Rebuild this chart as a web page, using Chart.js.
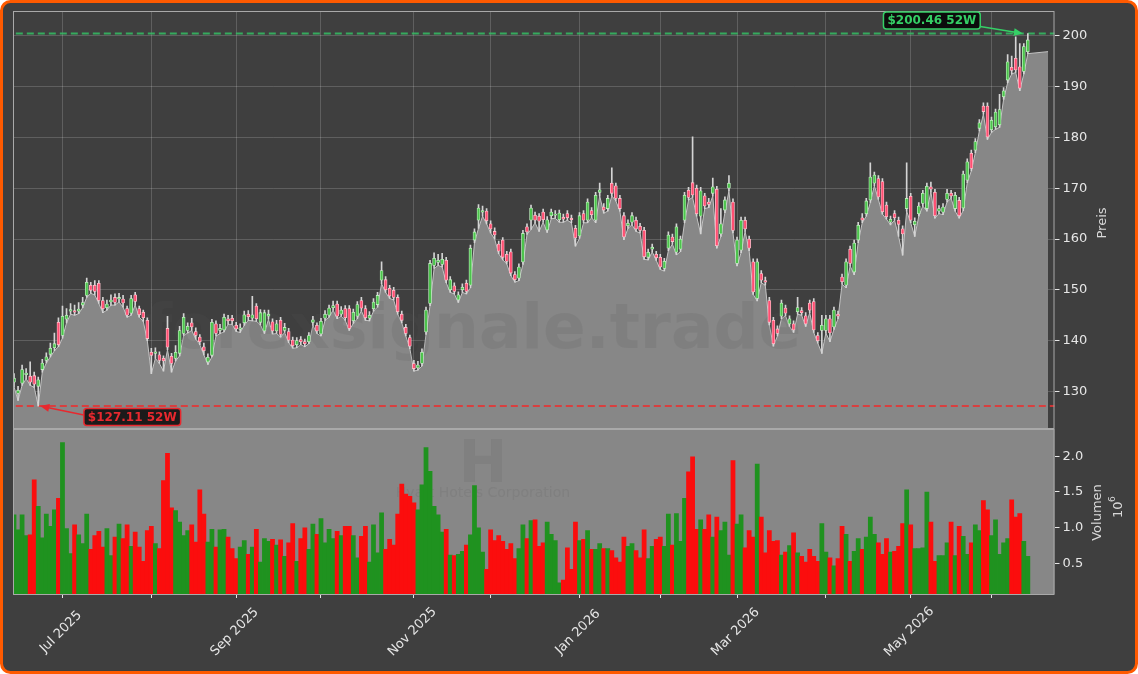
<!DOCTYPE html>
<html>
<head>
<meta charset="utf-8">
<script src="https://cdn.jsdelivr.net/npm/chart.js@4"></script>
<style>
  html, body { margin: 0; padding: 0; background: #ffffff; }
  canvas { display: block; }
</style>
</head>
<body>
<canvas id="chart" width="1138" height="674"></canvas>
<script>
// Kursdaten, ein Eintrag je Handelstag (ab 12.06.2025)
var firstDay = '2025-06-12';
var holidays = ['2025-06-19', '2025-07-04', '2025-09-01', '2025-11-27', '2025-12-25',
                '2026-01-01', '2026-01-19', '2026-02-16', '2026-04-03', '2026-05-25'];
var monthNames = ['Jan', 'Feb', 'Mar', 'Apr', 'May', 'Jun', 'Jul', 'Aug', 'Sep', 'Oct', 'Nov', 'Dec'];

var open = [
    131.8,129.6,131.6,133.3,133,133.1,131,134.3,136.1,137.3,
    138.6,143.6,141,144.2,145.8,145.9,145.8,147,148.9,150.9,
    150.9,151.3,147.9,146.5,147.6,148.5,148.2,148.2,146.3,145.4,
    149,146.3,145.6,144,137.7,137.5,137.2,136.5,142.4,136.9,
    136.5,137.5,141.4,142,143.5,141.8,140.7,138.8,135.8,137.1,
    143.3,142,142.1,144.3,144.4,143,142.2,143.5,145.2,144.4,
    146.8,143.6,141.9,144.8,143.7,141.9,144,142,141.8,140.1,
    139.2,140.2,139.8,139.8,143.6,143,141.3,144.4,145,146.5,
    147.2,145.2,146.3,146.3,143.9,144.8,147.9,146.3,144.4,146.3,
    147.1,151.9,152,150.3,149.9,148.5,145.2,142.6,140.6,135.5,
    134.6,135.5,141.7,147.3,154.8,155.4,155,155.8,150,150.8,
    148,150,151.3,150.9,159.8,163.7,165.3,165.5,163,161.5,
    159,159.8,157,157.5,153,152.3,155.5,162.4,163.7,164.7,
    164.5,165.3,161.8,164.6,164.7,163.8,164.3,165,164.1,162.1,
    160.6,165,163.7,165.6,163.7,169.2,166.3,166,171,170.5,
    168,164.6,162.6,163.3,163.7,162.5,161.7,156.4,158,157,
    156.4,154.2,158.2,160.4,157.4,158,163.7,169.6,171.1,170,
    164.5,168.5,167.3,169,169.8,161,165.7,170,167.3,155.2,
    157.8,163.7,160,155.5,148.3,153.2,151.8,147.9,144,142.3,
    144.8,146.4,143.3,143.3,145.7,145.9,144.9,147.4,147.7,141,
    142,142,144.3,142.7,145.2,152.5,150.9,158,153.5,159.8,
    164.2,165,167.7,171,171.9,171.3,166.7,163.3,165,163.7,
    162,166,168.4,162.8,165,167,166,170.3,169.2,165.5,
    165.3,167.8,169,166,167.6,166.1,171.6,176.9,177.5,181.8,
    186.2,186.2,181.5,182.1,182.5,188,191.3,193.8,195.6,193.9,
    193,196.9
];
var high = [
    133.5,131,135.2,134.5,135.8,133.8,132.8,136.3,137.6,139.5,
    141.5,144.5,146.8,146.3,147.3,147,147.5,148.5,152.3,151.5,
    151.8,151.8,148.5,148,149,149.2,149.3,148.9,146.8,148.9,
    149.5,146.8,146,144.5,138.5,138.6,137.8,137,144.8,137.5,
    139,142.8,145.3,143.5,144.4,142.5,141.2,139.5,137.4,144.2,
    143.9,143.2,145.2,145,145,143.6,143.3,145.8,145.9,148.7,
    147.3,146.1,146,146,144.3,144,144.6,143.4,142.4,140.7,
    140.6,140.8,140.3,141.6,144.8,143.5,144.4,145.9,147,147.8,
    147.8,146.7,146.9,146.9,146.2,147.7,148.5,146.9,145.7,148.3,
    149.5,155.5,152.6,150.9,150.5,149,145.8,143.2,141.1,136.1,
    135.9,138.4,146.6,155.8,157.3,157,157.2,156.4,152.6,151.4,
    149.6,151.2,151.9,158.8,162,166.8,166.5,166,163.6,162.2,
    159.6,160.3,157.6,158,153.6,155.1,161.7,163,166.7,165.3,
    165,165.9,164.4,165.9,165.6,165.7,164.9,165.6,164.7,162.7,
    165.2,165.6,167.9,166.2,169.2,171,167,168.6,174,171,
    168.6,165.2,163.8,165.2,164.3,163.1,162.3,158,159,157.6,
    157,156.2,161.4,161,163,160.6,169.2,170.2,180.1,170.6,
    170.2,169,168,172,170.4,166,168.3,172.5,167.9,160.4,
    164.3,164.3,160.6,156.1,156.1,153.8,152.5,148.5,144.6,142.9,
    148,147,144.9,143.9,148.5,146.5,145.5,148,148.3,141.6,
    145,145,145,146.6,145.8,153.1,156.1,158.6,159.8,163.3,
    165,168,175,173.2,172.5,171.9,167.3,164.5,165.6,164.3,
    162.6,175,169,164.2,167.2,169.6,171,171.2,169.8,166.6,
    167,169.8,169.6,169.2,168.2,173.4,175.8,177.5,179.8,183.5,
    186.8,186.8,184,185.6,188.5,189.8,196.3,196,199.8,198.5,
    198.5,200.46
];
var low = [
    130.9,128.2,131.2,132.5,131.2,130.8,127.11,133.8,135.6,136.8,
    138,138.8,140.5,143.5,145.2,145,145.3,146.5,148.5,149.3,
    149,147.3,145.5,146,147,147,147.6,146.6,144.6,145,
    147,144.6,143.8,140,133.5,136.5,135.5,134,138.2,133.8,
    136,137,141,141.5,142,140.3,139.2,137.2,135.3,136.8,
    140.9,141.4,141.7,143.2,143.2,141.8,141.6,143,144,143.9,
    143.8,143.1,141.4,144.2,141.3,141.4,140.7,141.6,139.6,138.5,
    138.6,139.2,138.8,139.4,143,141.4,140.9,144,144.6,146,
    144.3,144.8,144,142,143.4,144.3,145.9,144,143.9,145.8,
    146.6,151.2,149.5,148.3,148,145.2,143.5,140.9,138.4,134,
    134.2,135,141.2,146.9,154.2,154.8,154.5,151.4,149.5,149.2,
    147.5,149.5,149.2,150.4,159.3,162.1,164.5,163,161.2,160,
    157.1,155.9,155.1,152.8,151.5,151.8,155,160.9,161.9,163.2,
    161.5,163.3,161.3,164,164.1,163.3,163.3,163.7,163.2,158.6,
    160.1,163.2,163.2,164.2,163.2,168.5,165.1,165.5,168.5,167.5,
    165.5,159.9,162.1,162.8,161.5,161.2,156,155.9,157.5,155.8,
    154,153.7,157.7,159,156.9,157.5,163.2,167.7,168.2,164.5,
    161,166,166.2,168.5,158.2,160.5,165.2,169.5,161.2,154.7,
    157.3,161.5,157.7,149.1,147.8,151.4,150.9,143.1,138.9,140.9,
    144.3,144.9,142.8,141.6,145.2,145,142.8,145.5,141.6,139.5,
    137.5,141.5,139.8,142.2,144.3,151.1,150.4,154.7,153,159.3,
    163.2,164.5,167.2,170.5,167.8,164.9,163.9,162.8,163.7,160.5,
    156.8,165.5,163.2,160.5,164.5,166.5,165.5,169.3,164.1,165,
    164.8,167.3,168,165.5,164.1,165.6,171.1,173.4,177,181.3,
    184.6,179.6,181,181.6,182,187.5,190.8,192.5,192.8,189.2,
    192.5,196.5
];
var close = [
    132.6,130.2,134.3,133.6,131.8,131.4,132.3,135.6,136.8,138.5,
    139.4,139.2,144.8,145,146.1,145.6,146.2,147.5,151.5,149.9,
    149.7,147.9,146.3,147.2,148,147.5,148.5,147.4,145,148.3,
    147.7,145.1,144.5,140.4,137.1,137.8,136.1,136,138.7,135.5,
    137.7,142,144.6,142.8,142.7,141,139.8,138,136.7,143.6,
    141.4,142.4,144.6,143.9,143.9,142.3,142.5,145.1,144.7,145.1,
    144.3,145.5,145.5,145.2,141.9,143.3,141.2,142.6,140.1,139,
    140,139.8,139.4,141,144.1,141.9,143.8,145.2,146.4,146.9,
    144.8,146,144.5,142.4,145.6,147.1,146.4,144.5,145,147.6,
    148.9,153.8,150,148.8,148.5,145.7,144,141.4,138.9,134.5,
    135.2,137.7,146,155.2,156.2,155.8,156,151.9,152,149.7,
    149,150.5,149.7,158.2,161.4,166.1,165.6,163.6,162,160.8,
    157.6,156.4,155.6,153.3,152,154.5,161.1,161.4,166.1,163.7,
    163.5,163.8,163.8,165.3,164.9,165.1,163.9,164.2,163.8,160.2,
    164.6,163.7,167.3,164.8,168.6,169.7,165.7,168,169,168,
    166,160.4,163.1,164.6,162,161.7,156.5,157.4,158.4,156.3,
    154.5,155.6,160.8,159.5,162.4,160,168.6,168.2,168.7,165,
    169.5,166.5,166.8,170.3,158.7,163,167.7,171,161.7,159.8,
    163.7,162,158.2,149.6,155.5,151.9,151.5,143.6,139.4,141.4,
    147.4,145.4,144.3,142.1,146.5,145.5,143.3,146,142.1,140,
    143,144.3,141.5,146,144.8,151.6,155.5,155.2,159.2,162.7,
    163.7,167.5,172.2,172.6,168.3,165.4,164.4,163.9,164.2,162.9,
    161,168,163.7,163.5,166.5,169,170.4,169.8,164.6,166,
    166.3,169,168.5,168.6,164.6,172.8,175.2,173.9,179.2,182.9,
    185.1,180.1,183.4,185,185.5,189.2,194.9,193.2,193.3,189.7,
    197.9,199.2
];
// Volumen in Mio. Stueck
var volume = [
    1.18,0.97,1.18,0.89,0.90,1.67,1.30,0.86,1.19,1.02,
    1.25,1.41,2.19,0.99,0.64,1.04,0.90,0.78,1.19,0.70,
    0.89,0.95,0.73,0.99,0.61,0.87,1.05,0.85,1.04,0.74,
    0.94,0.73,0.53,0.96,1.02,0.78,0.71,1.66,2.04,1.28,
    1.24,1.08,0.89,0.96,1.04,0.80,1.53,1.19,0.80,0.98,
    0.73,0.97,0.98,0.87,0.71,0.57,0.73,0.82,0.63,0.73,
    0.98,0.52,0.85,0.81,0.84,0.76,0.83,0.60,0.79,1.06,
    0.53,0.85,1.00,0.70,1.05,0.91,1.13,0.79,0.98,0.85,
    0.95,0.89,1.02,1.02,0.89,0.58,0.88,1.02,0.52,1.04,
    0.65,1.21,0.70,0.84,0.76,1.19,1.61,1.47,1.44,1.35,
    1.25,1.60,2.12,1.79,1.30,1.18,0.94,0.98,0.62,0.61,
    0.63,0.67,0.76,0.90,1.59,1.00,0.66,0.42,0.97,0.82,
    0.89,0.81,0.70,0.78,0.57,0.71,1.04,0.85,1.10,1.11,
    0.74,0.79,1.08,0.91,0.82,0.23,0.27,0.72,0.42,1.08,
    0.82,0.84,0.96,0.70,0.70,0.78,0.71,0.71,0.68,0.58,
    0.52,0.87,0.74,0.78,0.68,0.58,0.97,0.57,0.74,0.84,
    0.87,0.74,1.19,0.76,1.20,0.81,1.41,1.78,1.99,0.98,
    1.11,0.98,1.18,0.87,1.15,0.96,1.08,0.62,1.94,1.05,
    1.18,0.72,0.96,0.87,1.89,1.15,0.65,0.96,0.81,0.82,
    0.62,0.66,0.75,0.93,0.65,0.60,0.52,0.70,0.60,0.53,
    1.06,0.66,0.58,0.47,0.57,1.02,0.91,0.53,0.67,0.85,
    0.70,0.87,1.15,0.91,0.79,0.63,0.85,0.66,0.67,0.74,
    1.06,1.53,1.04,0.71,0.71,0.72,1.50,1.08,0.53,0.61,
    0.61,0.79,1.08,0.61,1.02,0.88,0.63,0.79,1.04,0.96,
    1.38,1.25,0.89,1.11,0.63,0.79,0.85,1.39,1.15,1.20,
    0.81,0.60
];

var yearHigh = 200.46;
var yearLow = 127.11;
var areaEnd = { x: 256, y: 196.9 };
var priceTicks = [130, 140, 150, 160, 170, 180, 190, 200];
var volumeTicks = [0.5, 1.0, 1.5, 2.0];

function isoDay(d) {
    return d.toISOString().slice(0, 10);
}

function tradingDays(start, count) {
    var days = [];
    var d = new Date(start + 'T12:00:00Z');
    while (days.length < count) {
        var wd = d.getUTCDay();
        if (wd !== 0 && wd !== 6 && holidays.indexOf(isoDay(d)) < 0) days.push(new Date(d.getTime()));
        d.setUTCDate(d.getUTCDate() + 1);
    }
    return days;
}

var dates = tradingDays(firstDay, close.length);
var monthStarts = [];
dates.forEach(function (d, i) {
    if (i > 0 && d.getUTCMonth() !== dates[i - 1].getUTCMonth()) monthStarts.push(i);
});

var upFill = '#4cc44c', upEdge = '#bfeebf';
var downFill = '#ff4f72', downEdge = '#ffc0cc';
var volUp = '#1f921f', volDown = '#fb0d0d';

var candleFill = [], candleEdge = [], volColor = [];
close.forEach(function (c, i) {
    var up = c >= open[i];
    candleFill.push(up ? upFill : downFill);
    candleEdge.push(up ? upEdge : downEdge);
    volColor.push(up ? volUp : volDown);
});

var font = 'DejaVu Sans';
var gridColor = 'rgba(255,255,255,0.17)';
var tickColor = '#e6e6e6';

function roundRect(ctx, x, y, w, h, r) {
    ctx.beginPath();
    ctx.moveTo(x + r, y);
    ctx.arcTo(x + w, y, x + w, y + h, r);
    ctx.arcTo(x + w, y + h, x, y + h, r);
    ctx.arcTo(x, y + h, x, y, r);
    ctx.arcTo(x, y, x + w, y, r);
    ctx.closePath();
}

function arrow(ctx, x1, y1, x2, y2, color) {
    var a = Math.atan2(y2 - y1, x2 - x1);
    ctx.strokeStyle = color;
    ctx.fillStyle = color;
    ctx.lineWidth = 1.6;
    ctx.beginPath();
    ctx.moveTo(x1, y1);
    ctx.lineTo(x2 - 6 * Math.cos(a), y2 - 6 * Math.sin(a));
    ctx.stroke();
    ctx.beginPath();
    ctx.moveTo(x2, y2);
    ctx.lineTo(x2 - 9 * Math.cos(a) + 4 * Math.sin(a), y2 - 9 * Math.sin(a) - 4 * Math.cos(a));
    ctx.lineTo(x2 - 9 * Math.cos(a) - 4 * Math.sin(a), y2 - 9 * Math.sin(a) + 4 * Math.cos(a));
    ctx.closePath();
    ctx.fill();
}

function labelBox(ctx, text, cx, cy, fg, bg) {
    ctx.font = 'bold 12px ' + font;
    var w = ctx.measureText(text).width + 8;
    var h = 17;
    roundRect(ctx, cx - w / 2, cy - h / 2, w, h, 3);
    ctx.fillStyle = bg;
    ctx.fill();
    ctx.lineWidth = 1.5;
    ctx.strokeStyle = fg;
    ctx.stroke();
    ctx.fillStyle = fg;
    ctx.textAlign = 'center';
    ctx.textBaseline = 'middle';
    ctx.fillText(text, cx, cy + 0.5);
    return w;
}

function rotatedText(ctx, text, x, y, size, color) {
    ctx.save();
    ctx.translate(x, y);
    ctx.rotate(-Math.PI / 2);
    ctx.font = size + 'px ' + font;
    ctx.fillStyle = color;
    ctx.textAlign = 'center';
    ctx.textBaseline = 'middle';
    ctx.fillText(text, 0, 0);
    ctx.restore();
}

var panelPlugin = {
    id: 'panels',
    beforeDraw: function (chart) {
        var ctx = chart.ctx;
        ctx.save();
        roundRect(ctx, 1.5, 1.5, chart.width - 3, chart.height - 3, 9);
        ctx.fillStyle = '#3f3f3f';
        ctx.fill();
        ctx.restore();
    },
    beforeDatasetsDraw: function (chart) {
        var ctx = chart.ctx, a = chart.chartArea, v = chart.scales.v;
        ctx.save();
        ctx.fillStyle = '#878787';
        ctx.fillRect(a.left, v.top, a.right - a.left, v.bottom - v.top);
        var cx = 483;
        ctx.fillStyle = 'rgba(100,100,100,0.2)';
        ctx.textAlign = 'center';
        ctx.textBaseline = 'alphabetic';
        ctx.font = 'bold 58px ' + font;
        ctx.fillText('H', cx, 482);
        ctx.font = '14px ' + font;
        ctx.fillText('Hyatt Hotels Corporation', cx, 497);
        ctx.restore();
    },
    afterDatasetDraw: function (chart, args) {
        if (args.index !== 0) return;
        var ctx = chart.ctx;
        ctx.save();
        ctx.fillStyle = 'rgba(89,89,89,0.15)';
        ctx.font = 'bold 63px ' + font;
        ctx.textAlign = 'center';
        ctx.textBaseline = 'alphabetic';
        ctx.fillText('forexsignale.trade', 473, 348);
        ctx.restore();
    },
    afterDraw: function (chart) {
        var ctx = chart.ctx, a = chart.chartArea;
        var x = chart.scales.x, y = chart.scales.y, v = chart.scales.v;
        ctx.save();
        // Rahmen der beiden Felder
        ctx.strokeStyle = '#a9a9a9';
        ctx.lineWidth = 1;
        ctx.strokeRect(a.left + 0.5, y.top + 0.5, a.right - a.left - 1, y.bottom - y.top - 1);
        ctx.strokeRect(a.left + 0.5, v.top + 0.5, a.right - a.left - 1, v.bottom - v.top);

        // Monatsbeschriftung
        ctx.fillStyle = tickColor;
        ctx.font = '13px ' + font;
        ctx.textAlign = 'center';
        ctx.textBaseline = 'middle';
        monthStarts.forEach(function (i) {
            var m = dates[i].getUTCMonth();
            if (m % 2 !== 0) return;
            ctx.save();
            ctx.translate(x.getPixelForValue(i) - 1.5, 632);
            ctx.rotate(-Math.PI / 4);
            ctx.fillText(monthNames[m] + ' ' + dates[i].getUTCFullYear(), 0, 0);
            ctx.restore();
        });

        // Achsentitel
        rotatedText(ctx, 'Preis', 1102.5, (y.top + y.bottom) / 2 + 3, 13, '#d8d8d8');
        rotatedText(ctx, 'Volumen', 1097.5, (v.top + v.bottom) / 2 + 1, 13, '#d8d8d8');
        ctx.save();
        ctx.translate(1117, 507);
        ctx.rotate(-Math.PI / 2);
        ctx.fillStyle = '#d8d8d8';
        ctx.textBaseline = 'middle';
        ctx.textAlign = 'left';
        ctx.font = '13px ' + font;
        ctx.fillText('10', -11, 2);
        ctx.font = '9px ' + font;
        ctx.fillText('6', 5, -4);
        ctx.restore();

        // 52W Hoch / Tief
        var hi = high.indexOf(yearHigh), lo = low.indexOf(yearLow);
        var hx = x.getPixelForValue(hi) - 5, hy = y.getPixelForValue(yearHigh);
        var w = labelBox(ctx, '$' + yearHigh.toFixed(2) + ' 52W', hx - 91, hy - 13, '#35d066', '#0c0c0c');
        arrow(ctx, hx - 91 + w / 2, hy - 7, hx, hy, '#35d066');
        var lx = x.getPixelForValue(lo) + 2, ly = y.getPixelForValue(yearLow);
        w = labelBox(ctx, '$' + yearLow.toFixed(2) + ' 52W', lx + 92, ly + 11, '#e8282e', '#1c1a1a');
        arrow(ctx, lx + 92 - w / 2, ly + 9, lx, ly, '#e8282e');

        // Rand
        roundRect(ctx, 1.5, 1.5, chart.width - 3, chart.height - 3, 9);
        ctx.lineWidth = 3;
        ctx.strokeStyle = '#ff5a00';
        ctx.stroke();
        ctx.restore();
    }
};

var idx = close.map(function (c, i) { return i; });
var areaData = low.map(function (l, i) { return { x: i, y: l }; });
areaData.push(areaEnd);

new Chart(document.getElementById('chart'), {
    data: {
        datasets: [
            {
                type: 'line', label: 'Tief', data: areaData, yAxisID: 'y',
                fill: 'start', backgroundColor: '#878787', borderColor: '#c4c4c4',
                borderWidth: 1, pointRadius: 0, tension: 0, order: 9
            },
            {
                type: 'line', label: '52W Hoch', yAxisID: 'y',
                data: [{ x: -5, y: yearHigh }, { x: 270, y: yearHigh }],
                borderColor: 'rgba(52,190,100,0.85)', borderDash: [7, 4], borderWidth: 2,
                pointRadius: 0, order: 8
            },
            {
                type: 'line', label: '52W Tief', yAxisID: 'y',
                data: [{ x: -5, y: yearLow }, { x: 270, y: yearLow }],
                borderColor: 'rgba(230,50,50,0.85)', borderDash: [7, 4], borderWidth: 2,
                pointRadius: 0, order: 7
            },
            {
                type: 'bar', label: 'Docht', yAxisID: 'y', grouped: false,
                data: idx.map(function (i) { return { x: i, y: [low[i], high[i]] }; }),
                barThickness: 1, backgroundColor: '#d4d4d4', order: 3
            },
            {
                type: 'bar', label: 'Kerze', yAxisID: 'y', grouped: false,
                data: idx.map(function (i) { return { x: i, y: [open[i], close[i]] }; }),
                barThickness: 3, backgroundColor: candleFill, borderColor: candleEdge,
                borderWidth: 0.8, borderSkipped: false, minBarLength: 1, order: 2
            },
            {
                type: 'bar', label: 'Volumen', yAxisID: 'v', grouped: false,
                data: idx.map(function (i) { return { x: i, y: volume[i] }; }),
                barThickness: 4.1, backgroundColor: volColor, borderWidth: 0, order: 1
            }
        ]
    },
    options: {
        responsive: false,
        animation: false,
        devicePixelRatio: 1,
        layout: { padding: { left: 13, top: 11, right: 0, bottom: 0 } },
        plugins: { legend: { display: false }, tooltip: { enabled: false } },
        scales: {
            x: {
                type: 'linear', min: -0.25, max: 257.6, offset: false,
                grid: { color: gridColor, tickColor: tickColor, tickLength: 4, offset: false },
                border: { display: false },
                ticks: { display: false },
                afterBuildTicks: function (s) { s.ticks = monthStarts.map(function (i) { return { value: i }; }); },
                afterFit: function (s) { s.height = 80; }
            },
            y: {
                type: 'linear', position: 'right', stack: 'panes', stackWeight: 2.533,
                min: 122.6, max: 204.9,
                grid: { color: gridColor, tickColor: tickColor, tickLength: 5 },
                border: { display: false },
                ticks: { color: tickColor, padding: 3, font: { family: font, size: 13 } },
                afterBuildTicks: function (s) { s.ticks = priceTicks.map(function (t) { return { value: t }; }); },
                afterFit: function (s) { s.width = 83.5; }
            },
            v: {
                type: 'linear', position: 'right', stack: 'panes', stackWeight: 1,
                min: 0.075, max: 2.38,
                grid: { drawOnChartArea: false, tickColor: tickColor, tickLength: 5 },
                border: { display: false },
                ticks: {
                    color: tickColor, padding: 3, font: { family: font, size: 13 },
                    callback: function (t) { return t.toFixed(1); }
                },
                afterBuildTicks: function (s) { s.ticks = volumeTicks.map(function (t) { return { value: t }; }); },
                afterFit: function (s) { s.width = 83.5; }
            }
        }
    },
    plugins: [panelPlugin]
});
</script>
</body>
</html>
